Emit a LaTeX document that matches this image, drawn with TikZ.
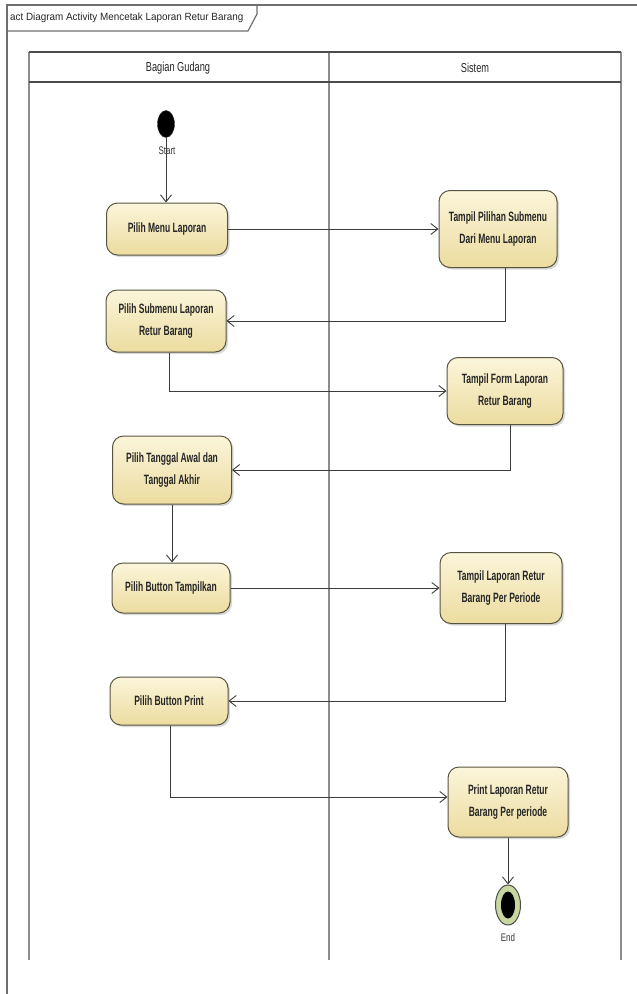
\documentclass[tikz,border=0pt]{standalone}
\usepackage{fontspec}
\setmainfont{Liberation Sans}
\newfontfamily\nodefont{Liberation Sans}[FakeStretch=0.63]
\newfontfamily\headfont{Liberation Sans}[FakeStretch=0.71]
\newfontfamily\titlefont{Liberation Sans}[FakeStretch=0.94]
\newfontfamily\smallfont{Liberation Sans}[FakeStretch=0.72]
\usetikzlibrary{arrows.meta,shadows,calc,shapes.geometric}
\definecolor{boxtop}{RGB}{251,245,218}
\definecolor{boxbot}{RGB}{236,220,160}
\definecolor{boxborder}{RGB}{88,84,66}
\definecolor{flowcol}{RGB}{60,60,60}
\definecolor{lanecol}{RGB}{140,140,140}
\definecolor{framecol}{RGB}{110,110,110}
\definecolor{endring}{RGB}{200,214,160}
\tikzset{
  act/.style={rectangle, rounded corners=11pt, draw=boxborder, line width=1pt,
    top color=boxtop, bottom color=boxbot, align=center, inner sep=2pt,
    font=\nodefont\bfseries\fontsize{13.5pt}{22pt}\selectfont, text=black!85,
    drop shadow={shadow xshift=2pt, shadow yshift=-2pt, fill=black!30, opacity=0.5}},
  flow/.style={draw=flowcol, line width=0.9pt, -{Straight Barb[length=7pt,width=11pt]}},
  lane/.style={draw=lanecol, line width=1.6pt},
  lanehead/.style={draw=black!70, line width=1.2pt},
  lbl/.style={font=\smallfont\fontsize{11pt}{12pt}\selectfont, text=black!80, inner sep=0pt}
}
\begin{document}
\begin{tikzpicture}[x=1pt,y=-1pt]
\useasboundingbox (0,0) rectangle (637,994);
% outer frame and title tab
\draw[framecol, line width=1.2pt] (7,994) -- (7,5) -- (637,5);
\draw[framecol, line width=1.2pt] (7,31) -- (248,31) -- (257,14) -- (257,5);
\node[font=\titlefont\fontsize{10.5pt}{12pt}\selectfont, anchor=west, inner sep=0pt, text=black!85] (title) at (10,18) {act Diagram Activity Mencetak Laporan Retur Barang};
% swimlanes
\draw[lane] (29,960) -- (29,52);
\draw[lane] (329,960) -- (329,52);
\draw[lane] (621,960) -- (621,52);
\draw[lanehead] (29,52) -- (621,52);
\draw[lanehead] (29,82) -- (621,82);
\node[font=\headfont\fontsize{13pt}{14pt}\selectfont, text=black!85] (laneA) at (178,68) {Bagian Gudang};
\node[font=\headfont\fontsize{13pt}{14pt}\selectfont, text=black!85] (laneB) at (475,68) {Sistem};
% start
\node[ellipse, fill=black, draw=black!80, minimum width=17pt, minimum height=27pt, inner sep=0pt] (start) at (166,124) {};
% activities
\node[act, minimum width=121pt, minimum height=52pt] (n1) at (167,229) {Pilih Menu Laporan};
\node[act, minimum width=118pt, minimum height=77pt] (n2) at (498,229) {Tampil Pilihan Submenu\\Dari Menu Laporan};
\node[act, minimum width=120pt, minimum height=62pt] (n3) at (166,321) {Pilih Submenu Laporan\\Retur Barang};
\node[act, minimum width=116pt, minimum height=67pt] (n4) at (505,391) {Tampil Form Laporan\\Retur Barang};
\node[act, minimum width=119pt, minimum height=68pt] (n5) at (172,470) {Pilih Tanggal Awal dan\\Tanggal Akhir};
\node[act, minimum width=118pt, minimum height=50pt] (n6) at (171,588) {Pilih Button Tampilkan};
\node[act, minimum width=122pt, minimum height=71pt] (n7) at (501,588) {Tampil Laporan Retur\\Barang Per Periode};
\node[act, minimum width=118pt, minimum height=48pt] (n8) at (169,701) {Pilih Button Print};
\node[act, minimum width=120pt, minimum height=70pt] (n9) at (508,802) {Print Laporan Retur\\Barang Per periode};
% end
\node[ellipse, fill=endring, draw=black!70, line width=1pt, minimum width=25pt, minimum height=40pt, inner sep=0pt] (end) at (508,905) {};
\node[ellipse, fill=black, minimum width=14pt, minimum height=27pt, inner sep=0pt] (endin) at (end.center) {};
% connectors
\draw[flow] (start.south) -- (start.south |- n1.north);
\node[lbl] (startlbl) at (167,151) {Start};
\draw[flow] (n1) -- (n2);
\draw[flow] ([xshift=7pt]n2.south) |- (n3);
\draw[flow] ([xshift=3pt]n3.south) |- (n4);
\draw[flow] ([xshift=5pt]n4.south) |- (n5);
\draw[flow] (n5.south) -- (n5.south |- n6.north);
\draw[flow] (n6) -- (n7);
\draw[flow] ([xshift=4pt]n7.south) |- (n8);
\draw[flow] ([xshift=1pt]n8.south) |- ([yshift=5pt]n9.west);
\draw[flow] (n9) -- (end);
\node[lbl] (endlbl) at (508,938) {End};
\end{tikzpicture}
\end{document}
